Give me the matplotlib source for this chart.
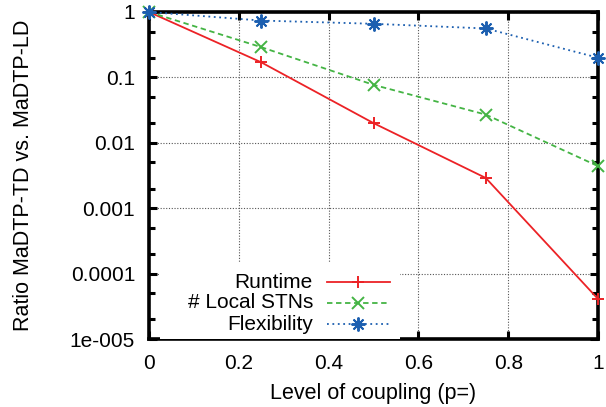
import matplotlib
matplotlib.use("Agg")
from matplotlib import pyplot as plt
from matplotlib.ticker import LogLocator, NullFormatter, FixedLocator
from matplotlib.lines import Line2D
from matplotlib.patches import Rectangle

plt.rcParams["font.family"] = ["Liberation Sans", "DejaVu Sans"]
plt.rcParams["font.size"] = 15

coupling = [0, 0.25, 0.5, 0.75, 1.0]
runtime = [1.0, 0.17, 0.020, 0.0029, 4.1e-5]
local_stns = [1.0, 0.29, 0.077, 0.027, 0.0044]
flexibility = [1.0, 0.74, 0.66, 0.56, 0.20]

xticks = [0, 0.2, 0.4, 0.6, 0.8, 1]
xticklabels = ["0", "0.2", "0.4", "0.6", "0.8", "1"]
yticks = [1e-5, 1e-4, 1e-3, 1e-2, 1e-1, 1]
yticklabels = ["1e-005", "0.0001", "0.001", "0.01", "0.1", "1"]

series = [
    ("Runtime", runtime, "#ec2226", "-", "+", 9),
    ("# Local STNs", local_stns, "#44b444", (0, (3, 2)), "x", 8),
    ("Flexibility", flexibility, "#1c5fb0", (0, (1, 2)), (8, 2, 0), 10),
]

fig = plt.figure(figsize=(6.06, 4.07), dpi=100)
ax = fig.add_axes([149 / 606, 1 - 339 / 407, 449 / 606, 327 / 407])

for name, vals, col, ls, mk, ms in series:
    ax.plot(coupling, vals, color=col, lw=1.3, ls=ls, marker=mk,
            ms=ms, mew=1.4, clip_on=False, zorder=5)

ax.set_yscale("log")
ax.set_xlim(0, 1)
ax.set_ylim(1e-5, 1)
ax.set_xticks(xticks)
ax.set_xticklabels(xticklabels)
ax.yaxis.set_major_locator(FixedLocator(yticks))
ax.set_yticklabels(yticklabels)
ax.yaxis.set_minor_locator(LogLocator(base=10, subs=(2.0, 5.0)))
ax.yaxis.set_minor_formatter(NullFormatter())

ax.grid(True, which="major", color="#555555", ls=(0, (1, 1.5)), lw=0.8)
ax.tick_params(which="both", direction="in", top=True, right=True, width=2.2)
ax.tick_params(axis="y", which="major", length=6, pad=10)
ax.tick_params(axis="x", which="major", length=6, pad=11)
ax.tick_params(which="minor", length=4)
for s in ax.spines.values():
    s.set_linewidth(2.6)

ax.set_xlabel("Level of coupling (p=)", labelpad=7, fontsize=15.5)
ax.set_ylabel("Ratio MaDTP-TD vs. MaDTP-LD", labelpad=26, fontsize=15.5)

# legend drawn by hand (gnuplot style: text right-aligned, sample after it)
def fx(px):
    return (px - 149) / 449

def fy(py):
    return (339 - py) / 327

ax.add_patch(Rectangle((fx(160), 0), fx(400) - fx(160), fy(263), transform=ax.transAxes,
                       facecolor="white", edgecolor="none", zorder=3))
rows = [282, 303, 324]
for (name, vals, col, ls, mk, ms), py in zip(series, rows):
    ax.text(fx(313), fy(py), name, transform=ax.transAxes, ha="right", va="center", zorder=6)
    ax.add_line(Line2D([fx(327), fx(390)], [fy(py), fy(py)], transform=ax.transAxes,
                       color=col, lw=1.3, ls=ls, zorder=6))
    ax.add_line(Line2D([fx(358)], [fy(py)], transform=ax.transAxes, color=col,
                       marker=mk, ms=ms, mew=1.4, zorder=6))

fig.savefig("out.png", dpi=100)
